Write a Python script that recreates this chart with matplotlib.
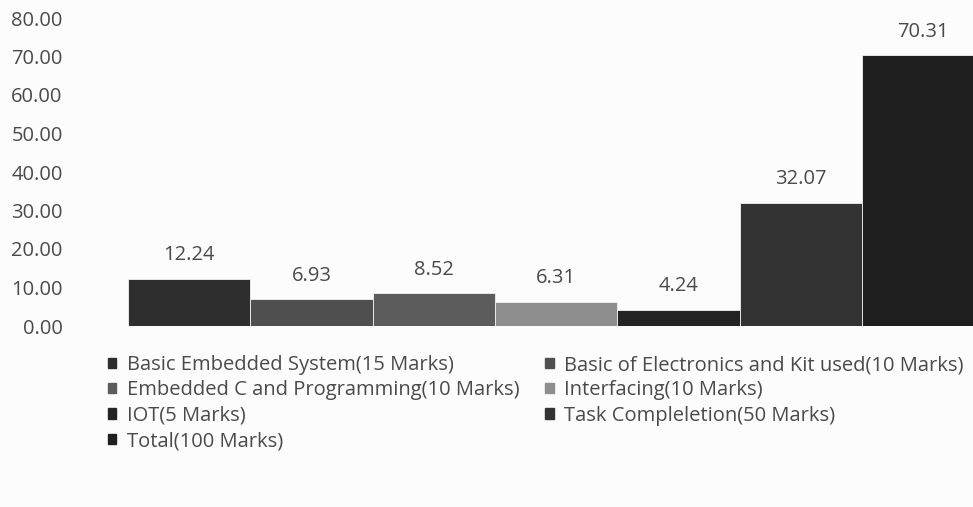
import matplotlib.pyplot as plt
import matplotlib.patches as mpatches

categories = [
    "Basic Embedded System(15 Marks)",
    "Basic of Electronics and Kit used(10 Marks)",
    "Embedded C and Programming(10 Marks)",
    "Interfacing(10 Marks)",
    "IOT(5 Marks)",
    "Task Compleletion(50 Marks)",
    "Total(100 Marks)",
]
scores = [12.24, 6.93, 8.52, 6.31, 4.24, 32.07, 70.31]
bar_colors = ["#2e2e2e", "#4f4f4f", "#5c5c5c", "#8e8e8e", "#242424", "#333333", "#1f1f1f"]
y_ticks = [0, 10, 20, 30, 40, 50, 60, 70, 80]

plt.rcParams["font.family"] = ["Open Sans", "DejaVu Sans"]
text_color = "#4a4a4a"
fs = 14.5

fig = plt.figure(figsize=(9.73, 5.07), dpi=100)
fig.patch.set_facecolor("#fcfcfc")

W, H = 973, 507
left, right, bottom, top = 128, 973, 326, 18
ax = fig.add_axes([left / W, 1 - bottom / H, (right - left) / W, (bottom - top) / H])
ax.set_facecolor("none")

x = list(range(len(scores)))
bars = ax.bar(x, scores, width=1.0, color=bar_colors, edgecolor="#f2f2f2", linewidth=0.6)

for xi, v in zip(x, scores):
    ax.annotate(f"{v:.2f}", (xi, v), xytext=(0, 17), textcoords="offset points",
                ha="center", va="center", fontsize=fs, color=text_color)

bar_w = 122.3
ax.set_xlim(-0.5, -0.5 + (right - left) / bar_w)
ax.set_ylim(0, 80)
ax.set_yticks(y_ticks)
ax.set_yticklabels([f"{t:.2f}" for t in y_ticks])
ax.tick_params(axis="y", length=0, pad=47, labelsize=fs, labelcolor=text_color)
ax.set_xticks([])
for s in ax.spines.values():
    s.set_visible(False)

# two-column legend read row by row
order = [0, 2, 4, 6, 1, 3, 5]
handles = [mpatches.Patch(color=bar_colors[i], label=categories[i]) for i in order]
leg = fig.legend(handles=handles, ncol=2, loc="upper left",
                 bbox_to_anchor=(108 / W, 1 - 355 / H), frameon=False,
                 fontsize=fs, handlelength=0.42, handleheight=0.42,
                 handletextpad=0.5, columnspacing=1.3, labelspacing=0.27,
                 borderaxespad=0, borderpad=0)
for t in leg.get_texts():
    t.set_color(text_color)

fig.savefig("out.png", dpi=100, facecolor=fig.get_facecolor())
